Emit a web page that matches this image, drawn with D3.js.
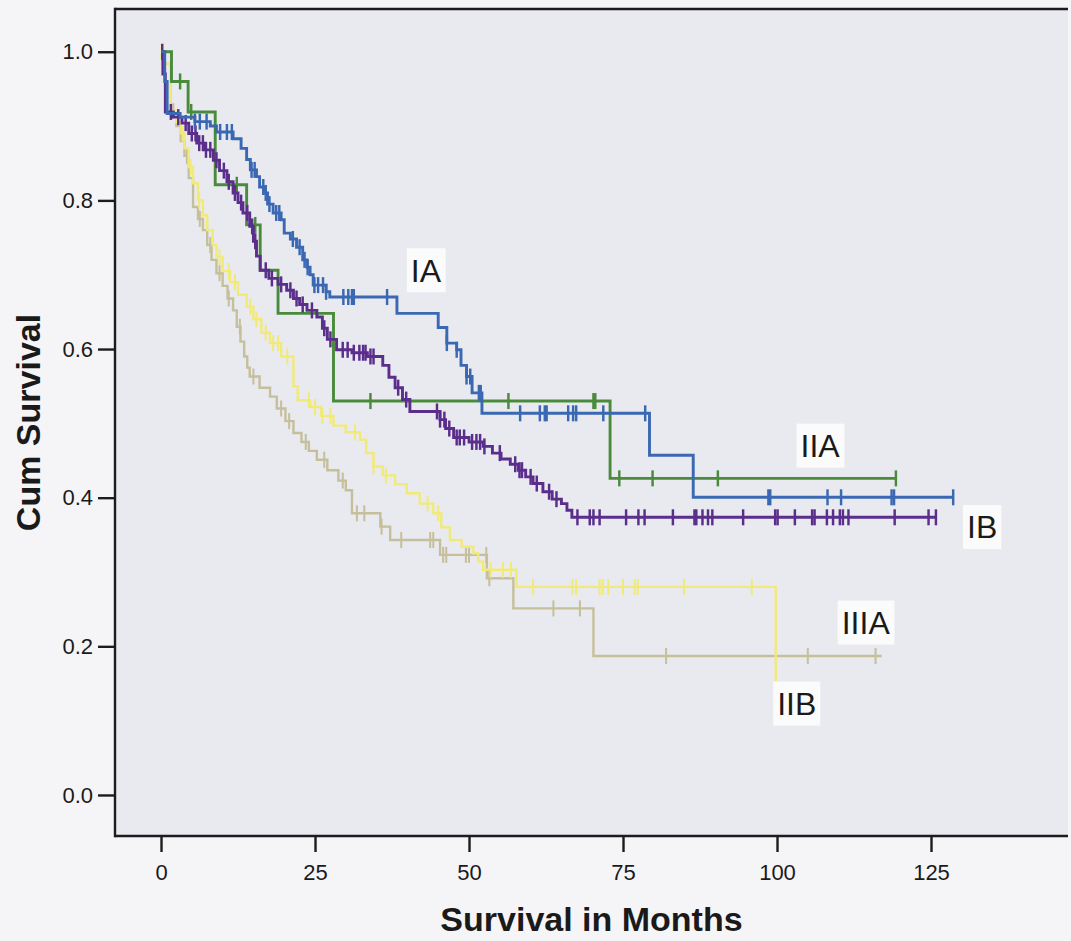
<!DOCTYPE html>
<html>
<head>
<meta charset="utf-8">
<script src="https://cdn.jsdelivr.net/npm/d3@7"></script>
<style>
  html, body { margin: 0; padding: 0; background: #f5f5f7; }
  svg { display: block; }
  text { font-family: "Liberation Sans", Arial, sans-serif; fill: #1a1a1a; }
</style>
</head>
<body>
<svg id="chart" width="1071" height="941"></svg>
<script>
// Kaplan-Meier survival by stage: step times (months) and survival after each step,
// censoring times, and the last follow-up time of each group.

const iaTimes = [0, 0.6, 1.0, 3.1, 5.5, 8.0, 9.0, 11.7, 13.0, 13.9, 14.5, 15.5, 16.0, 16.8, 17.3, 18.2, 19.5, 20.0, 21.0, 22.0, 23.0, 23.7, 24.2, 24.7, 26.8, 27.4, 38.3, 45.0, 46.4, 48.0, 48.7, 49.6, 50.5, 52.1, 79.3, 86.4];
const iaSurv  = [1.0, 0.96, 0.917, 0.912, 0.906, 0.900, 0.892, 0.883, 0.870, 0.855, 0.841, 0.832, 0.818, 0.810, 0.795, 0.783, 0.774, 0.756, 0.748, 0.737, 0.720, 0.710, 0.700, 0.686, 0.677, 0.670, 0.648, 0.629, 0.608, 0.599, 0.578, 0.563, 0.541, 0.5135, 0.457, 0.4005];
const iaCensor = [5.5, 6.3, 7.4, 9.6, 10.7, 11.5, 14.7, 15.2, 16.6, 17.0, 17.6, 18.7, 19.2, 21.4, 22.5, 23.3, 23.8, 24.9, 25.5, 26.3, 26.8, 29.6, 30.4, 31.0, 31.3, 36.7, 46.4, 48.0, 49.6, 50.2, 51.6, 51.9, 58.3, 61.5, 62.3, 62.6, 66.1, 66.9, 67.4, 71.8, 78.6, 98.6, 98.9, 108.2, 110.4, 118.6, 119.0, 128.6];
const iaEnd = 128.6;

const ibTimes = [0, 0.3, 0.7, 2.0, 3.4, 4.5, 5.8, 7.0, 8.5, 9.5, 10.7, 11.7, 12.5, 13.3, 14.4, 15.0, 15.5, 16.1, 17.5, 19.0, 20.4, 21.5, 22.5, 23.7, 25.3, 26.2, 27.0, 28.5, 31.0, 33.5, 36.0, 37.0, 38.0, 39.2, 40.4, 45.3, 46.2, 47.5, 50.0, 52.3, 53.8, 55.2, 56.7, 58.0, 59.2, 60.4, 62.0, 63.5, 65.0, 65.9, 66.7];
const ibSurv  = [1.0, 0.97, 0.919, 0.912, 0.904, 0.890, 0.877, 0.868, 0.854, 0.840, 0.825, 0.810, 0.797, 0.783, 0.765, 0.745, 0.725, 0.706, 0.695, 0.687, 0.679, 0.668, 0.660, 0.652, 0.643, 0.628, 0.613, 0.599, 0.595, 0.590, 0.578, 0.562, 0.548, 0.532, 0.516, 0.505, 0.493, 0.481, 0.475, 0.469, 0.460, 0.452, 0.445, 0.437, 0.428, 0.419, 0.408, 0.398, 0.392, 0.383, 0.3736];
const ibCensor = [0.2, 1.6, 2.8, 4.0, 5.0, 5.6, 6.2, 6.8, 7.3, 8.0, 9.0, 10.2, 11.0, 12.0, 13.0, 14.0, 14.8, 15.3, 17.0, 18.0, 19.5, 21.0, 22.0, 23.0, 24.5, 26.5, 27.5, 29.5, 30.3, 31.3, 32.2, 32.8, 33.2, 34.0, 34.5, 38.5, 39.8, 44.8, 45.3, 46.0, 46.8, 48.0, 48.5, 49.2, 50.5, 51.2, 51.8, 52.5, 55.0, 57.5, 58.2, 58.6, 60.0, 61.0, 63.0, 64.2, 67.6, 69.6, 70.2, 71.2, 75.5, 77.5, 78.5, 83.1, 86.6, 86.9, 87.9, 88.8, 89.5, 94.5, 99.7, 100.1, 102.9, 105.7, 106.1, 108.1, 109.1, 110.2, 110.7, 111.6, 119.1, 124.6, 125.8];
const ibEnd = 125.8;

const iiaTimes = [0, 1.7, 4.4, 8.8, 13.9, 16.1, 19.0, 28.0, 72.9];
const iiaSurv  = [1.0, 0.96, 0.919, 0.821, 0.767, 0.706, 0.648, 0.530, 0.426];
const iiaCensor = [3.1, 4.9, 12.3, 15.3, 34.0, 56.4, 70.2, 70.5, 74.4, 79.8, 90.4, 119.3];
const iiaEnd = 119.3;

const iibTimes = [0, 0.2, 1.5, 2.5, 3.2, 3.8, 4.5, 5.2, 6.0, 6.8, 7.5, 8.4, 9.0, 10.0, 11.2, 12.5, 13.9, 15.0, 16.3, 17.7, 19.5, 21.5, 22.2, 24.2, 26.0, 28.0, 30.0, 32.3, 33.3, 34.5, 36.0, 38.0, 39.9, 42.0, 44.2, 45.5, 46.9, 48.8, 50.7, 51.5, 52.3, 57.7, 99.8];
const iibSurv  = [1.0, 0.984, 0.920, 0.905, 0.890, 0.870, 0.845, 0.823, 0.800, 0.780, 0.760, 0.740, 0.724, 0.705, 0.690, 0.673, 0.657, 0.640, 0.622, 0.608, 0.590, 0.550, 0.531, 0.522, 0.510, 0.497, 0.488, 0.478, 0.460, 0.442, 0.430, 0.418, 0.406, 0.392, 0.379, 0.360, 0.343, 0.334, 0.325, 0.314, 0.303, 0.280, 0.153];
const iibCensor = [0.1, 3.5, 4.8, 6.2, 9.5, 11.0, 12.0, 14.5, 15.5, 17.0, 18.2, 19.0, 20.5, 24.0, 25.0, 26.2, 27.5, 31.5, 34.5, 36.5, 43.3, 45.0, 53.5, 55.5, 56.8, 60.4, 66.8, 67.4, 71.2, 71.7, 72.6, 75.0, 76.9, 77.4, 84.9, 95.9];
const iibEnd = 99.8;

const iiiaTimes = [0, 0.2, 1.5, 2.5, 3.2, 3.8, 4.5, 5.2, 6.0, 6.8, 7.5, 8.2, 9.0, 10.0, 10.8, 11.7, 12.3, 12.9, 13.5, 14.0, 14.4, 16.0, 17.7, 18.8, 20.2, 21.5, 22.8, 24.0, 25.3, 27.0, 28.8, 30.0, 31.0, 35.6, 37.2, 45.3, 52.9, 57.2, 70.2];
const iiiaSurv  = [1.0, 0.984, 0.920, 0.900, 0.880, 0.860, 0.830, 0.791, 0.775, 0.760, 0.740, 0.720, 0.702, 0.685, 0.668, 0.652, 0.630, 0.610, 0.590, 0.575, 0.563, 0.548, 0.536, 0.520, 0.503, 0.487, 0.475, 0.463, 0.451, 0.437, 0.423, 0.410, 0.379, 0.361, 0.343, 0.323, 0.2915, 0.251, 0.187];
const iiiaCensor = [2.0, 4.2, 6.3, 8.0, 9.5, 11.0, 12.8, 15.0, 19.5, 20.8, 23.5, 26.5, 29.5, 31.8, 33.0, 35.8, 39.0, 43.7, 44.2, 45.8, 46.3, 49.5, 50.0, 52.8, 53.3, 63.7, 68.0, 82.0, 105.0, 116.0];
const iiiaEnd = 117.0;

const xTicks = [0, 25, 50, 75, 100, 125];
const yTicks = [0.0, 0.2, 0.4, 0.6, 0.8, 1.0];

// Group labels placed at (months, survival)
const labelNames = ["IA", "IIA", "IB", "IIIA", "IIB"];
const labelX = [43.0, 107.0, 133.3, 114.4, 103.2];
const labelY = [0.706, 0.470, 0.3606, 0.232, 0.123];

const groups = [
  { name: "IIIA", times: iiiaTimes, surv: iiiaSurv, censor: iiiaCensor, end: iiiaEnd, color: "#c6bf9b", width: 2.4 },
  { name: "IIB",  times: iibTimes,  surv: iibSurv,  censor: iibCensor,  end: iibEnd,  color: "#f1ea78", width: 2.4 },
  { name: "IIA",  times: iiaTimes,  surv: iiaSurv,  censor: iiaCensor,  end: iiaEnd,  color: "#4a8b3b", width: 2.9 },
  { name: "IB",   times: ibTimes,   surv: ibSurv,   censor: ibCensor,   end: ibEnd,   color: "#5b2e8c", width: 2.9 },
  { name: "IA",   times: iaTimes,   surv: iaSurv,   censor: iaCensor,   end: iaEnd,   color: "#3b68b2", width: 2.9 }
];

const plot = { left: 115, right: 1068, top: 9, bottom: 836 };

const x = d3.scaleLinear().domain([-7.47, 147.24]).range([plot.left, plot.right]);
const y = d3.scaleLinear().domain([-0.0552, 1.0575]).range([plot.bottom, plot.top]);

const svg = d3.select("#chart");

svg.append("rect")
  .attr("x", plot.left).attr("y", plot.top)
  .attr("width", plot.right - plot.left).attr("height", plot.bottom - plot.top)
  .attr("fill", "#e8eaf0");

const curves = svg.append("g");

const line = d3.line()
  .x(d => x(d[0]))
  .y(d => y(d[1]))
  .curve(d3.curveStepAfter);

function survivalAt(g, t) {
  let s = g.surv[0];
  for (let i = 0; i < g.times.length; i++) {
    if (g.times[i] <= t) s = g.surv[i]; else break;
  }
  return s;
}

groups.forEach(g => {
  const pts = g.times.map((t, i) => [t, g.surv[i]]);
  pts.push([g.end, g.surv[g.surv.length - 1]]);
  const gg = curves.append("g");
  gg.append("path")
    .attr("d", line(pts))
    .attr("fill", "none")
    .attr("stroke", g.color)
    .attr("stroke-width", g.width)
    .attr("stroke-linejoin", "miter");
  gg.selectAll("line.cens")
    .data(g.censor)
    .join("line")
    .attr("class", "cens")
    .attr("x1", d => x(d)).attr("x2", d => x(d))
    .attr("y1", d => y(survivalAt(g, d)) - 8)
    .attr("y2", d => y(survivalAt(g, d)) + 8)
    .attr("stroke", g.color)
    .attr("stroke-width", g.width * 0.85);
});

// Frame
const frame = svg.append("g").attr("stroke", "#1c1c1c").attr("stroke-width", 2.4).attr("fill", "none");
frame.append("line").attr("x1", plot.left).attr("x2", plot.left).attr("y1", plot.top - 1.2).attr("y2", plot.bottom + 1.2);
frame.append("line").attr("x1", plot.left).attr("x2", plot.right).attr("y1", plot.top).attr("y2", plot.top);
frame.append("line").attr("x1", plot.left).attr("x2", plot.right).attr("y1", plot.bottom).attr("y2", plot.bottom);

// Axes
const xAxis = d3.axisBottom(x).tickValues(xTicks).tickSize(16).tickPadding(12).tickSizeOuter(0);
const yAxis = d3.axisLeft(y).tickValues(yTicks).tickSize(17).tickPadding(5).tickFormat(d3.format(".1f")).tickSizeOuter(0);

const gx = svg.append("g").attr("transform", `translate(0,${plot.bottom})`).call(xAxis);
const gy = svg.append("g").attr("transform", `translate(${plot.left},0)`).call(yAxis);
[gx, gy].forEach(g => {
  g.select(".domain").remove();
  g.selectAll(".tick line").attr("stroke", "#1c1c1c").attr("stroke-width", 2.4);
  g.selectAll(".tick text").attr("fill", "#1a1a1a").style("font-size", "22px")
    .style("font-family", "'Liberation Sans', Arial, sans-serif");
});

// Axis titles
svg.append("text")
  .attr("x", (plot.left + plot.right) / 2).attr("y", 931)
  .attr("text-anchor", "middle")
  .style("font-size", "34px").style("font-weight", "bold")
  .text("Survival in Months");

svg.append("text")
  .attr("transform", `translate(40,${(plot.top + plot.bottom) / 2}) rotate(-90)`)
  .attr("text-anchor", "middle")
  .style("font-size", "34px").style("font-weight", "bold")
  .text("Cum Survival");

// Group labels on light boxes
const labels = svg.append("g");
labelNames.forEach((name, i) => {
  const lg = labels.append("g").attr("transform", `translate(${x(labelX[i])},${y(labelY[i])})`);
  const t = lg.append("text")
    .attr("text-anchor", "middle")
    .attr("dy", "0.36em")
    .style("font-size", "32px")
    .text(name);
  const bb = t.node().getBBox();
  lg.insert("rect", "text")
    .attr("x", bb.x - 4).attr("y", -22)
    .attr("width", bb.width + 8).attr("height", 44)
    .attr("fill", "#fbfbfc");
});
</script>
</body>
</html>
